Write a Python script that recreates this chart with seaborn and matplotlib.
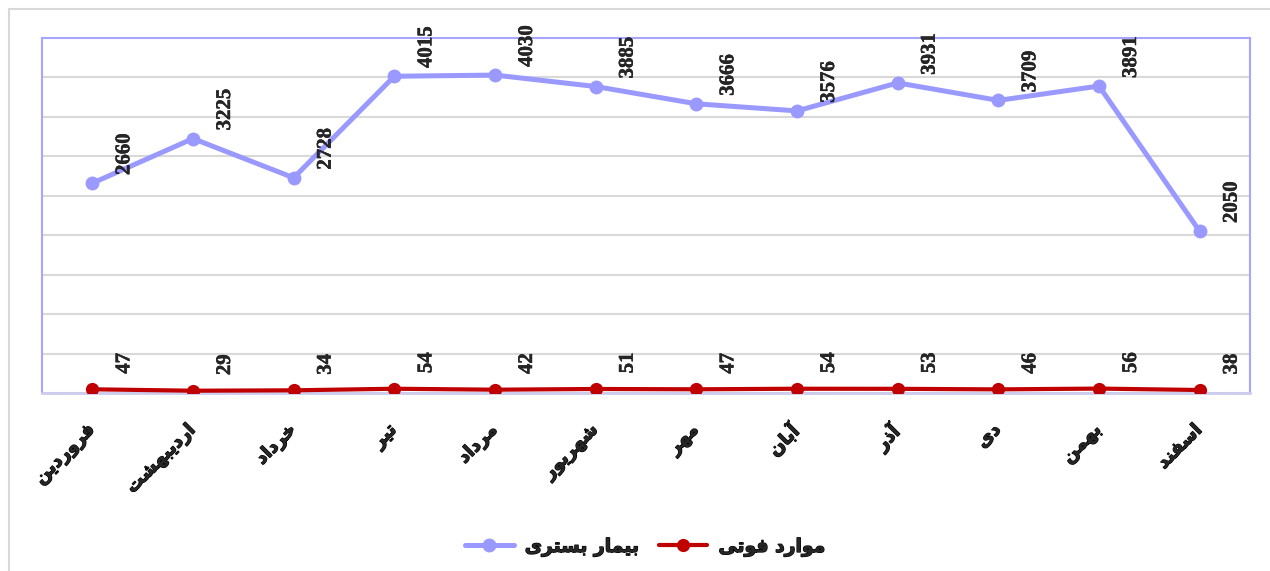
import numpy as np
import pandas as pd
import matplotlib
matplotlib.use("Agg")
import matplotlib.pyplot as plt
import matplotlib.patheffects as pe
import matplotlib.transforms as mtransforms
from matplotlib.patches import Rectangle
import seaborn as sns

# Persian month names (logical order)
months = ["فروردین", "اردیبهشت", "خرداد", "تیر", "مرداد", "شهریور",
          "مهر", "آبان", "آذر", "دی", "بهمن", "اسفند"]

# Series values
hospitalized = [2660, 3225, 2728, 4015, 4030, 3885, 3666, 3576, 3931, 3709, 3891, 2050]
deaths = [47, 29, 34, 54, 42, 51, 47, 54, 53, 46, 56, 38]

series_names = ["بیمار بستری", "موارد فوتی"]
series_colors = ["#9999FF", "#C00000"]

# Minimal Arabic-script shaping: map letters to presentation forms and
# reverse for right-to-left display (isolated, final, initial, medial).
FORMS = {
    "ا": ("\uFE8D", "\uFE8E", None, None),
    "آ": ("\uFE81", "\uFE82", None, None),
    "ب": ("\uFE8F", "\uFE90", "\uFE91", "\uFE92"),
    "ت": ("\uFE95", "\uFE96", "\uFE97", "\uFE98"),
    "خ": ("\uFEA5", "\uFEA6", "\uFEA7", "\uFEA8"),
    "د": ("\uFEA9", "\uFEAA", None, None),
    "ذ": ("\uFEAB", "\uFEAC", None, None),
    "ر": ("\uFEAD", "\uFEAE", None, None),
    "س": ("\uFEB1", "\uFEB2", "\uFEB3", "\uFEB4"),
    "ش": ("\uFEB5", "\uFEB6", "\uFEB7", "\uFEB8"),
    "ف": ("\uFED1", "\uFED2", "\uFED3", "\uFED4"),
    "م": ("\uFEE1", "\uFEE2", "\uFEE3", "\uFEE4"),
    "ن": ("\uFEE5", "\uFEE6", "\uFEE7", "\uFEE8"),
    "ه": ("\uFEE9", "\uFEEA", "\uFEEB", "\uFEEC"),
    "و": ("\uFEED", "\uFEEE", None, None),
    "ی": ("\uFEEF", "\uFEF0", "\uFEF3", "\uFEF4"),
}


def shape(text):
    out = []
    for i, ch in enumerate(text):
        if ch not in FORMS:
            out.append(ch)
            continue
        prev = text[i - 1] if i > 0 else ""
        nxt = text[i + 1] if i + 1 < len(text) else ""
        iso, fin, ini, med = FORMS[ch]
        join_prev = prev in FORMS and FORMS[prev][2] is not None
        join_next = nxt in FORMS and ini is not None
        if join_prev and join_next:
            out.append(med)
        elif join_prev:
            out.append(fin)
        elif join_next:
            out.append(ini)
        else:
            out.append(iso)
    return "".join(reversed(out))


sns.set_style("white")
plt.rcParams["font.family"] = ["DejaVu Sans"]

heavy = [pe.withStroke(linewidth=0.9, foreground="black")]
num_heavy = [pe.withStroke(linewidth=0.3, foreground="black")]

x = np.arange(len(months))
names = [shape(n) for n in series_names]
df = pd.DataFrame({
    "month": np.concatenate([x, x]),
    "value": hospitalized + deaths,
    "series": [names[0]] * len(x) + [names[1]] * len(x),
})

fig = plt.figure(figsize=(12.7, 5.71), dpi=100)
ax = fig.add_axes([42 / 1270, 1 - 393 / 571, (1250 - 42) / 1270, (393 - 38) / 571])

sns.lineplot(data=df[df.series == names[0]], x="month", y="value",
             color=series_colors[0], lw=3.6, marker="o", markersize=10,
             markeredgewidth=0, ax=ax, label=names[0], zorder=3)
sns.lineplot(data=df[df.series == names[1]], x="month", y="value",
             color=series_colors[1], lw=3.0, marker="o", markersize=9.5,
             markeredgewidth=0, ax=ax, label=names[1], zorder=3)

# Value labels, rotated, up and to the right of each point
for xi, v in zip(x, hospitalized):
    ax.annotate(f"{v}", (xi, v), xytext=(32, 29), textcoords="offset pixels",
                rotation=90, ha="center", va="center", fontsize=15,
                fontweight="bold", family="Liberation Serif",
                annotation_clip=False, path_effects=num_heavy)
for xi, v in zip(x, deaths):
    ax.annotate(f"{v}", (xi, v), xytext=(32, 26), textcoords="offset pixels",
                rotation=90, ha="center", va="center", fontsize=15,
                fontweight="bold", family="Liberation Serif",
                annotation_clip=False, path_effects=num_heavy)

ax.set_xlim(-0.5, len(months) - 0.5)
ax.set_ylim(0, 4500)
ax.set_yticks(np.arange(0, 4501, 500))
ax.set_yticklabels([])
ax.yaxis.grid(True, color="#D9D9D9", lw=1.5)
ax.set_axisbelow(True)
ax.set_xticks(x)
ax.set_xticklabels([shape(m) for m in months], rotation=45, ha="right",
                   fontsize=13, fontweight="bold")
ax.tick_params(axis="x", length=0, pad=20)
ax.tick_params(axis="y", length=0)
shift = mtransforms.ScaledTranslation(6 / 100, 0, fig.dpi_scale_trans)
for lbl in ax.get_xticklabels():
    lbl.set_transform(lbl.get_transform() + shift)
    lbl.set_path_effects(heavy)
ax.set_xlabel("")
ax.set_ylabel("")

for side in ["left", "top", "right"]:
    ax.spines[side].set_color("#A6A6FF")
    ax.spines[side].set_linewidth(1.5)
ax.spines["bottom"].set_color("#CCCCEE")
ax.spines["bottom"].set_linewidth(2)

ax.legend_.remove()
handles, labels = ax.get_legend_handles_labels()
leg = fig.legend(handles, labels, loc="center", bbox_to_anchor=(645 / 1270, 1 - 547 / 571),
                 ncol=2, frameon=False, handlelength=2.6, columnspacing=1.0,
                 handletextpad=0.6, prop={"size": 13.5, "weight": "bold"})
for t in leg.get_texts():
    t.set_path_effects(heavy)

fig.patches.append(Rectangle((9 / 1270, -0.1), 1.2, (571 - 9) / 571 + 0.1,
                             transform=fig.transFigure, fill=False,
                             edgecolor="#D9D9D9", lw=1.5))

fig.savefig("out.png", dpi=100)
